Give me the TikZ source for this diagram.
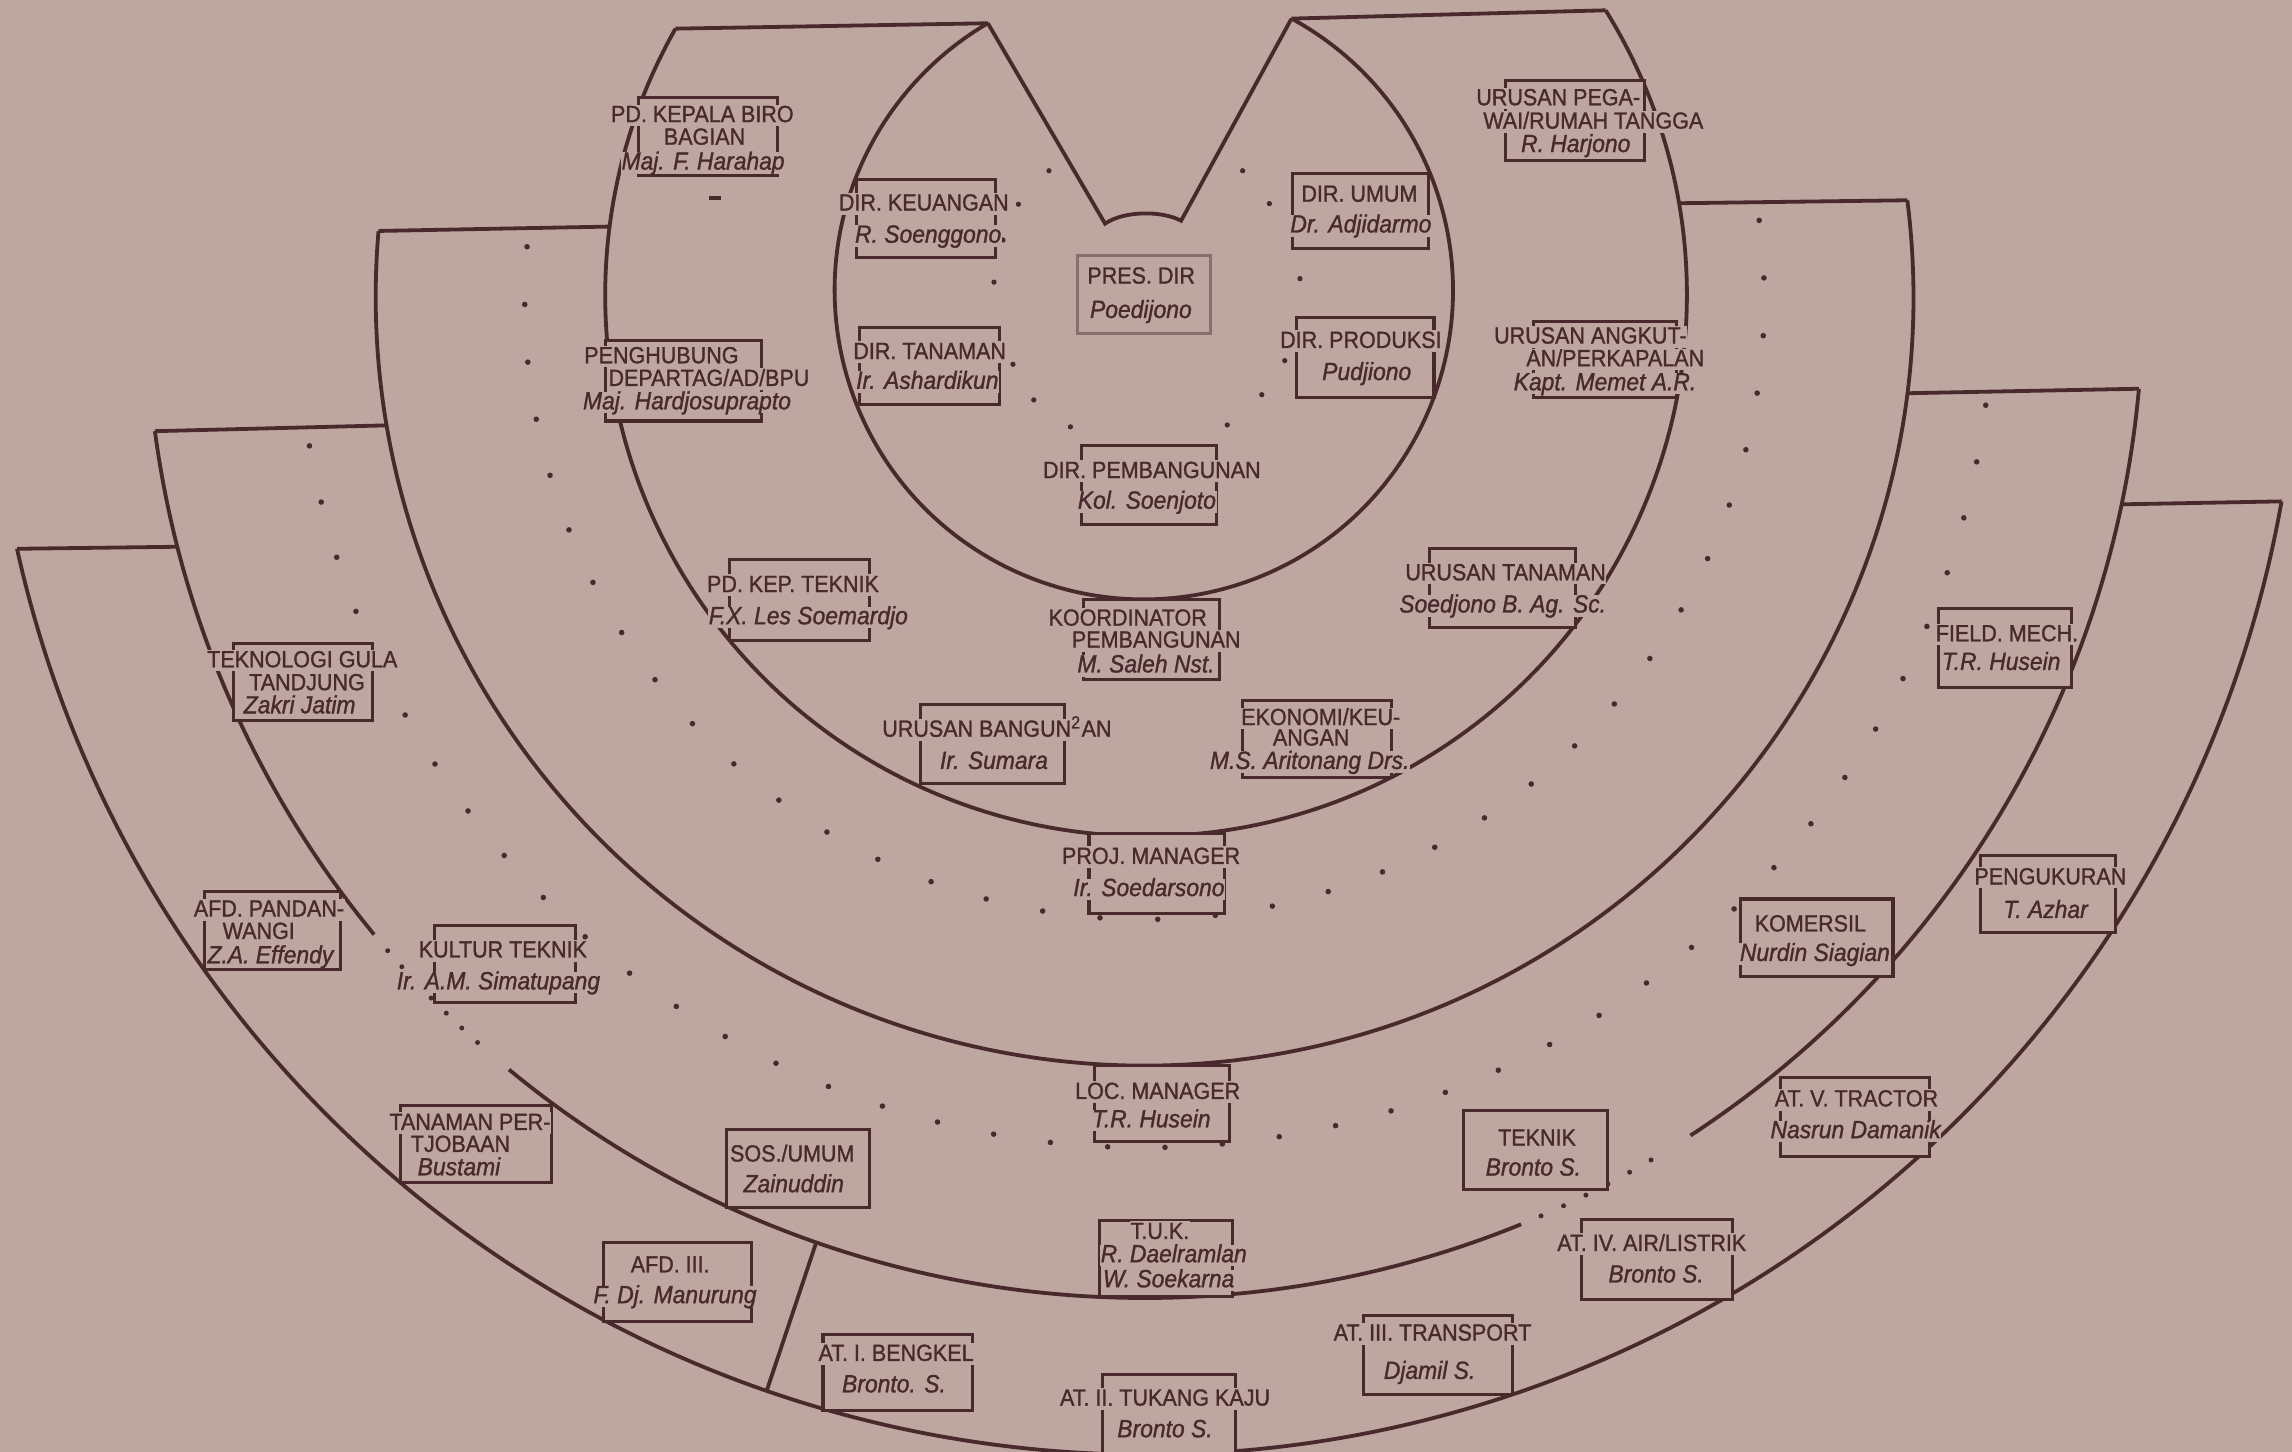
\documentclass[tikz,border=0pt]{standalone}
\usepackage{fontspec}
\setmainfont{Liberation Sans}
\newfontfamily\ttlfont{Liberation Sans}[FakeStretch=0.92, FakeBold=1.2]
\definecolor{paper}{RGB}{190,166,161}
\definecolor{ink}{RGB}{72,42,45}
\tikzset{
  ln/.style={draw=ink, line width=1.3pt},
  box/.style={draw=ink, fill=paper, line width=1.05pt, inner sep=0pt, outer sep=0pt, rectangle},
  faintbox/.style={draw=ink!45!paper},
  lbl/.style={fill=paper, text=ink, inner sep=0.2pt, text height=5.8pt, text depth=1.2pt, anchor=base, font=\ttlfont\fontsize{8}{8}\selectfont},
  nm/.style={lbl, font=\ttlfont\fontsize{8.5}{8}\selectfont\itshape},
  dotC/.style={draw=ink, line width=1.9pt, line cap=round, dash pattern=on 0pt off 19.76pt},
  dotD/.style={draw=ink, line width=1.9pt, line cap=round, dash pattern=on 0pt off 19.635pt},
  dotGl/.style={draw=ink, line width=1.7pt, line cap=round, dash pattern=on 0pt off 7.33pt},
  dotGr/.style={draw=ink, line width=1.7pt, line cap=round, dash pattern=on 0pt off 8.45pt},
}
% \bx[style]{name}{x1}{y1}{x2}{y2}
\newcommand\bx[6][]{\node[box,#1,minimum width={0.5pt*(#5-#3)},minimum height={0.5pt*(#6-#4)}] (#2) at ({(#3+#5)/2},{(#4+#6)/2}) {};}
\begin{document}
\begin{tikzpicture}[x=0.5pt,y=-0.5pt]
\fill[paper] (0,0) rectangle (1568,993);
\useasboundingbox (0,0) rectangle (1568,993);
\coordinate (cA) at (782.5,198.5);
\coordinate (cB) at (784,202);
\coordinate (cC) at (783,203);
\coordinate (cD) at (783,205);

% dotted lines
\draw[dotC] ([shift={(184.9:424)}]cD) arc[start angle=184.9, end angle=-7.4, radius=424];
\draw[dotD] ([shift={(170.07:580)}]cD) arc[start angle=170.07, end angle=7.14, radius=580];
\draw[dotGl] ([shift={(139.3:683)}]cD) arc[start angle=139.3, end angle=130.7, radius=683];
\draw[dotGr] ([shift={(66.6:683)}]cD) arc[start angle=66.6, end angle=58.1, radius=683];
\foreach \p in {(717.6,116.8),(850.1,116.8),(868.4,139.3),(680,193),(693,249.2),(707.2,273.6),(732.3,292),(839.6,290.7),(863.2,270),(889.3,190.6),(878.9,246.7),(696.7,139.7),(686.2,164.2)}
  \fill[ink] \p circle[radius=1.8];
\draw[ink, line width=1.2pt] (485,135.4) -- (493,135.4);

% ring A (board) with notch
\draw[ln] ([shift={(-61.46:211.5)}]cA) coordinate (AR) arc[start angle=-61.46, end angle=239.70, radius=211.5] coordinate (AL);
\draw[ln] (AL) -- (756,153) .. controls (769,144) and (795,144) .. (808,151) -- (AR);
% ring B
\draw[ln] ([shift={(-31.80:370)}]cB) coordinate (BR) arc[start angle=-31.80, end angle=209.54, radius=370] coordinate (BL);
\draw[ln] (BL) -- (AL);
\draw[ln] (AR) -- (BR);
% ring C
\draw[ln] ([shift={(-7.21:526)}]cC) coordinate (CR) arc[start angle=-7.21, end angle=184.91, radius=526] coordinate (CL);
\draw[ln] (CL) -- ([shift={(187.30:370)}]cB);
\draw[ln] ([shift={(-9.80:370)}]cB) -- (CR);
% ring D (three pieces)
\draw[ln] ([shift={(5.12:683)}]cD) coordinate (DR) arc[start angle=5.12, end angle=56.85, radius=683];
\draw[ln] ([shift={(67.84:683)}]cD) arc[start angle=67.84, end angle=129.54, radius=683];
\draw[ln] ([shift={(140.51:683)}]cD) arc[start angle=140.51, end angle=172.43, radius=683] coordinate (DL);
\draw[ln] (DL) -- ([shift={(170.37:526)}]cC);
\draw[ln] ([shift={(7.21:526)}]cC) -- (DR);
% ring E
\draw[ln] ([shift={(10.06:790)}]cD) coordinate (ER) arc[start angle=10.06, end angle=167.54, radius=790] coordinate (EL);
\draw[ln] (EL) -- ([shift={(165.67:683)}]cD);
\draw[ln] ([shift={(11.83:683)}]cD) -- (ER);
\draw[ln] ([shift={(109.2:683)}]cD) -- ([shift={(109.1:790)}]cD);

% boxes
\bx{b1}{437}{67}{532}{120}
\bx{b2}{586}{123}{681}{176}
\bx{b3}{588}{224}{684}{277}
\bx[faintbox]{b4}{737}{175}{828}{228}
\bx{b5}{884}{119}{977}{170}
\bx{b6}{887}{217}{981}{272}
\bx{b7}{740}{305}{832}{359}
\bx{b8}{1030}{55}{1125}{110}
\bx{b9}{414}{233}{521}{288}
\bx{b10}{1049}{220}{1147}{272}
\bx{b11}{499}{383}{595}{438}
\bx{b12}{741}{410}{834}{465}
\bx{b13}{978}{375}{1078}{429}
\bx{b14}{630}{482}{728}{536}
\bx{b15}{850}{479}{952}{532}
\bx{b16}{745}{570}{838}{625}
\bx{b17}{160}{440}{255}{493}
\bx{b18}{140}{610}{233}{663}
\bx{b19}{297}{633}{394}{686}
\bx{b20}{274}{756}{377}{809}
\bx{b21}{497}{773}{595}{826}
\bx{b22}{413}{850}{514}{904}
\bx{b23}{563}{913}{665}{965}
\bx{b24}{749}{729}{841}{781}
\bx{b25}{752}{835}{843}{887}
\bx{b26}{754}{940}{845}{997}
\bx{b27}{1001}{760}{1100}{814}
\bx{b28}{1082}{834}{1185}{889}
\bx{b29}{933}{900}{1035}{954}
\bx{b30}{1218}{737}{1320}{791}
\bx{b31}{1326}{416}{1417}{470}
\bx{b32}{1355}{585}{1447}{638}
\bx{b33}{1191}{615}{1295}{668}

% texts
\node[lbl] (t1a) at (480.5,83.5) {PD. KEPALA BIRO};
\node[lbl] (t1b) at (482,99) {BAGIAN};
\node[nm] (t1c) at (481,116) {Maj. F. Harahap};
\node[lbl] (t2a) at (632,144) {DIR. KEUANGAN};
\node[nm] (t2b) at (635,166) {R. Soenggono};
\node[lbl] (t3a) at (636,245.6) {DIR. TANAMAN};
\node[nm] (t3b) at (634.4,266) {Ir. Ashardikun};
\node[lbl] (t4a) at (780.7,194) {PRES. DIR};
\node[nm] (t4b) at (780.5,217.5) {Poedijono};
\node[lbl] (t5a) at (930,138) {DIR. UMUM};
\node[nm] (t5b) at (931,159) {Dr. Adjidarmo};
\node[lbl] (t6a) at (931,238) {DIR. PRODUKSI};
\node[nm] (t6b) at (935,260) {Pudjiono};
\node[lbl] (t7a) at (788,327) {DIR. PEMBANGUNAN};
\node[nm] (t7b) at (784.6,348) {Kol. Soenjoto};
\node[lbl] (t8a) at (1066,72) {URUSAN PEGA-};
\node[lbl] (t8b) at (1090,88) {WAI/RUMAH TANGGA};
\node[nm] (t8c) at (1078,104) {R. Harjono};
\node[lbl] (t9a) at (452.5,248.5) {PENGHUBUNG};
\node[lbl] (t9b) at (485,264) {DEPARTAG/AD/BPU};
\node[nm] (t9c) at (470,280) {Maj. Hardjosuprapto};
\node[lbl] (t10a) at (1088,235) {URUSAN ANGKUT-};
\node[lbl] (t10b) at (1105,250.5) {AN/PERKAPALAN};
\node[nm] (t10c) at (1098,267) {Kapt. Memet A.R.};
\node[lbl] (t11a) at (542.5,405) {PD. KEP. TEKNIK};
\node[nm] (t11b) at (553,427) {F.X. Les Soemardjo};
\node[lbl] (t12a) at (771.5,428) {KOORDINATOR};
\node[lbl] (t12b) at (791,443) {PEMBANGUNAN};
\node[nm] (t12c) at (784,460) {M. Saleh Nst.};
\node[lbl] (t13a) at (1030,397) {URUSAN TANAMAN};
\node[nm] (t13b) at (1028,419) {Soedjono B. Ag. Sc.};
\node[lbl] (t14a) at (682,504) {URUSAN BANGUN\textsuperscript{2}AN};
\node[nm] (t14b) at (680,526) {Ir. Sumara};
\node[lbl] (t15a) at (903.5,496) {EKONOMI/KEU-};
\node[lbl] (t15b) at (897,510) {ANGAN};
\node[nm] (t15c) at (896,526) {M.S. Aritonang Drs.};
\node[lbl] (t16a) at (787.5,591) {PROJ. MANAGER};
\node[nm] (t16b) at (786,613) {Ir. Soedarsono};
\node[lbl] (t17a) at (206.8,456.5) {TEKNOLOGI GULA};
\node[lbl] (t17b) at (210,472.2) {TANDJUNG};
\node[nm] (t17c) at (205,488) {Zakri Jatim};
\node[lbl] (t18a) at (184,627) {AFD. PANDAN-};
\node[lbl] (t18b) at (177,642.3) {WANGI};
\node[nm] (t18c) at (185,659) {Z.A. Effendy};
\node[lbl] (t19a) at (344,655) {KULTUR TEKNIK};
\node[nm] (t19b) at (341,676.8) {Ir. A.M. Simatupang};
\node[lbl] (t20a) at (321.5,773) {TANAMAN PER-};
\node[lbl] (t20b) at (315,788) {TJOBAAN};
\node[nm] (t20c) at (314,804) {Bustami};
\node[lbl] (t21a) at (542,794.6) {SOS./UMUM};
\node[nm] (t21b) at (543,815.6) {Zainuddin};
\node[lbl] (t22a) at (458.5,870.5) {AFD. III.};
\node[nm] (t22b) at (461.8,891.5) {F. Dj. Manurung};
\node[lbl] (t23a) at (613,931) {AT. I. BENGKEL};
\node[nm] (t23b) at (611.6,952.5) {Bronto. S.};
\node[lbl] (t24a) at (792,751.8) {LOC. MANAGER};
\node[nm] (t24b) at (787.6,771.2) {T.R. Husein};
\node[lbl] (t25a) at (793.5,847.6) {T.U.K.};
\node[nm] (t25b) at (803,863.5) {R. Daelramlan};
\node[nm] (t25c) at (799.5,880.6) {W. Soekarna};
\node[lbl] (t26a) at (797,961.6) {AT. II. TUKANG KAJU};
\node[nm] (t26b) at (797,983.2) {Bronto S.};
\node[lbl] (t27a) at (1051.5,783.7) {TEKNIK};
\node[nm] (t27b) at (1049,804.2) {Bronto S.};
\node[lbl] (t28a) at (1130,855.8) {AT. IV. AIR/LISTRIK};
\node[nm] (t28b) at (1133,877.3) {Bronto S.};
\node[lbl] (t29a) at (980,917.1) {AT. III. TRANSPORT};
\node[nm] (t29b) at (978,943.3) {Djamil S.};
\node[lbl] (t30a) at (1270,756.9) {AT. V. TRACTOR};
\node[nm] (t30b) at (1269.5,778.6) {Nasrun Damanik};
\node[lbl] (t31a) at (1373,438.7) {FIELD. MECH.};
\node[nm] (t31b) at (1369,458.3) {T.R. Husein};
\node[lbl] (t32a) at (1402.7,605) {PENGUKURAN};
\node[nm] (t32b) at (1399.4,628) {T. Azhar};
\node[lbl] (t33a) at (1238.5,637.2) {KOMERSIL};
\node[nm] (t33b) at (1241.6,657.4) {Nurdin Siagian};
\end{tikzpicture}
\end{document}
